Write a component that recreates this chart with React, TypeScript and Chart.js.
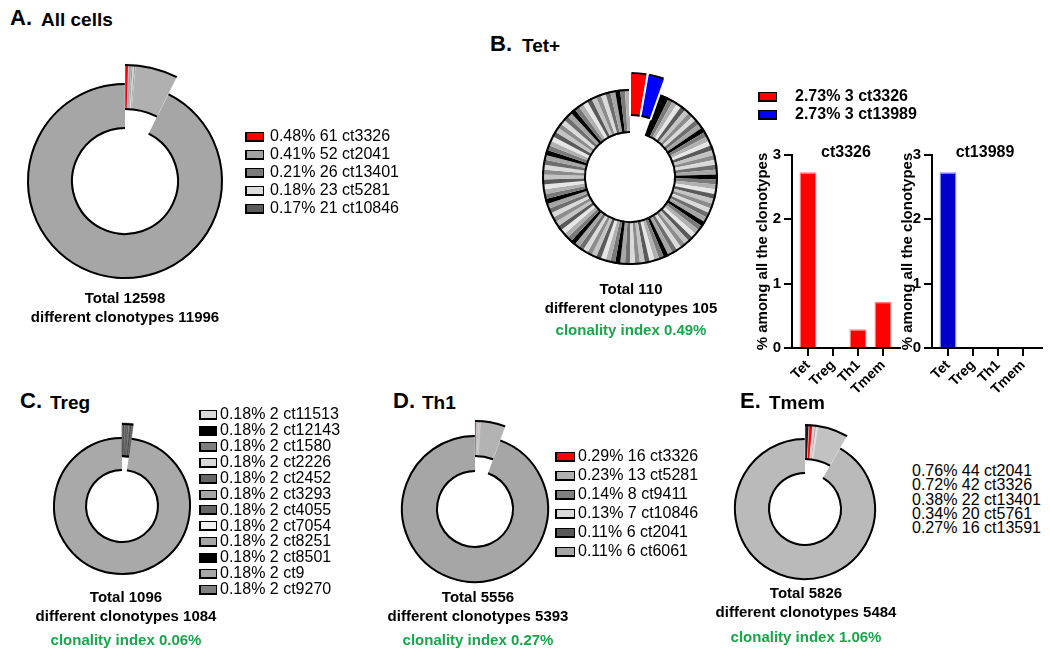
import React, { useEffect, useRef } from 'react';
import { Chart, registerables } from 'chart.js';

Chart.register(...registerables);

const FONT = '"Liberation Sans", Arial, Helvetica, sans-serif';
Chart.defaults.font.family = FONT;

// ---------------- DATA ----------------
// A. All cells
const allCellsTotal = 12598;
const allCellsDifferent = 11996;
const allCellsClones = ['ct3326', 'ct2041', 'ct13401', 'ct5281', 'ct10846'];
const allCellsPct = ['0.48', '0.41', '0.21', '0.18', '0.17'];
const allCellsCounts = [61, 52, 26, 23, 21];
const allCellsOtherExpanded = [744];
const allCellsSingletons = [11671];

// B. Tet+
const tetTotal = 110;
const tetDifferent = 105;
const tetClonality = '0.49%';
const tetClones = ['ct3326', 'ct13989'];
const tetPct = ['2.73', '2.73'];
const tetCounts = [3, 3];
const tetRing = [
  2, 1, 1, 1, 1, 1, 1, 1, 1, 1, 1, 1, 1, 1, 1, 1, 1, 1, 1, 1,
  1, 1, 1, 1, 1, 1, 1, 1, 1, 1, 1, 1, 1, 1, 1, 1, 1, 1, 1, 1,
  1, 1, 1, 1, 1, 1, 1, 1, 1, 1, 1, 1, 1, 1, 1, 1, 1, 1, 1, 1,
  1, 1, 1, 1, 1, 1, 1, 1, 1, 1, 1, 1, 1, 1, 1, 1, 1, 1, 1, 1,
  1, 1, 1, 1, 1, 1, 1, 1, 1, 1, 1, 1, 1, 1, 1, 1, 1, 1, 1, 1,
  1, 1, 1,
];

// Bar charts (% among all the clonotypes)
const barCategories = ['Tet', 'Treg', 'Th1', 'Tmem'];
const ct3326Pct = [2.73, 0, 0.29, 0.72];
const ct13989Pct = [2.73, 0, 0, 0];
const barYMin = 0;
const barYMax = 3;
const barYStep = 1;

// C. Treg
const tregTotal = 1096;
const tregDifferent = 1084;
const tregClonality = '0.06%';
const tregClones = ['ct11513', 'ct12143', 'ct1580', 'ct2226', 'ct2452', 'ct3293', 'ct4055', 'ct7054', 'ct8251', 'ct8501', 'ct9', 'ct9270'];
const tregPct = ['0.18', '0.18', '0.18', '0.18', '0.18', '0.18', '0.18', '0.18', '0.18', '0.18', '0.18', '0.18'];
const tregCounts = [2, 2, 2, 2, 2, 2, 2, 2, 2, 2, 2, 2];
const tregSingletons = [1072];

// D. Th1
const th1Total = 5556;
const th1Different = 5393;
const th1Clonality = '0.27%';
const th1Clones = ['ct3326', 'ct5281', 'ct9411', 'ct10846', 'ct2041', 'ct6061'];
const th1Pct = ['0.29', '0.23', '0.14', '0.13', '0.11', '0.11'];
const th1Counts = [16, 13, 8, 7, 6, 6];
const th1OtherExpanded = [253];
const th1Singletons = [5247];

// E. Tmem
const tmemTotal = 5826;
const tmemDifferent = 5484;
const tmemClonality = '1.06%';
const tmemClones = ['ct2041', 'ct3326', 'ct13401', 'ct5761', 'ct13591'];
const tmemPct = ['0.76', '0.72', '0.38', '0.34', '0.27'];
const tmemCounts = [44, 42, 22, 20, 16];
const tmemOtherExpanded = [341];
const tmemSingletons = [5341];

// ---------------- STYLES ----------------
const GREEN = '#17a74a';
const RED = '#ff0000';
const BLUE = '#0000ff';
const TRANSPARENT = 'rgba(0,0,0,0)';
const GREY_CYCLE = ['#000000', '#7a7a7a', '#b0b0b0', '#e6e6e6', '#5a5a5a', '#c4c4c4', '#8c8c8c', '#dadada', '#6e6e6e', '#a6a6a6'];

const sum = (a: number[]) => a.reduce((s, v) => s + v, 0);

const outlinePlugin = {
  id: 'outline',
  afterDatasetsDraw(chart: any, _args: any, opts: any) {
    if (!opts || opts.from == null) return;
    const meta = chart.getDatasetMeta(0);
    const ctx = chart.ctx;
    const first = meta.data[opts.from];
    if (!first) return;
    const { x, y, outerRadius, innerRadius } = first;
    const w = opts.width || 2;
    ctx.save();
    ctx.strokeStyle = opts.color || '#000';
    ctx.lineWidth = w;
    const segs: [number, number][] = [];
    if (opts.each) {
      for (let i = opts.from; i <= opts.to; i++) {
        const el = meta.data[i];
        const pad = (opts.gap || 0) / el.outerRadius;
        segs.push([el.startAngle + pad, el.endAngle - pad]);
      }
    } else {
      segs.push([meta.data[opts.from].startAngle, meta.data[opts.to].endAngle]);
    }
    for (const [s, e] of segs) {
      ctx.beginPath();
      ctx.arc(x, y, outerRadius - w / 2, s, e);
      ctx.stroke();
      ctx.beginPath();
      ctx.arc(x, y, innerRadius + w / 2, s, e);
      ctx.stroke();
    }
    ctx.restore();
  },
};

type DonutProps = {
  cx: number; cy: number; R: number; r: number; off: number;
  wedge: number[]; wedgeColors: string[]; wedgeBorder: string; wedgeBorderWidth: number; each?: boolean;
  ring: number[]; ringColors: string[];
};

function Donut(p: DonutProps) {
  const ringRef = useRef<HTMLCanvasElement>(null);
  const wedgeRef = useRef<HTMLCanvasElement>(null);
  const size = Math.ceil(2 * (p.R + p.off) + 10);
  useEffect(() => {
    const wedgeSum = sum(p.wedge);
    const ringSum = sum(p.ring);
    const base: any = {
      responsive: false,
      animation: false,
      events: [],
      layout: { padding: 0 },
    };
    const c1 = new Chart(ringRef.current!, {
      type: 'doughnut',
      data: {
        labels: ['exploded', ...p.ring.map((_, i) => 'r' + i)],
        datasets: [{
          data: [wedgeSum, ...p.ring],
          backgroundColor: [TRANSPARENT, ...p.ringColors],
          borderWidth: 0,
        }],
      },
      options: {
        ...base,
        radius: p.R,
        cutout: (p.r / p.R) * 100 + '%',
        plugins: { legend: { display: false }, tooltip: { enabled: false }, outline: { from: 1, to: p.ring.length, width: 2 } } as any,
      } as any,
      plugins: [outlinePlugin as any],
    });
    const Rw = p.R + p.off;
    const rw = p.r + p.off;
    const c2 = new Chart(wedgeRef.current!, {
      type: 'doughnut',
      data: {
        labels: [...p.wedge.map((_, i) => 'w' + i), 'rest'],
        datasets: [{
          data: [...p.wedge, ringSum],
          backgroundColor: [...p.wedgeColors, TRANSPARENT],
          borderColor: [...p.wedge.map(() => p.wedgeBorder), TRANSPARENT],
          borderWidth: [...p.wedge.map(() => p.wedgeBorderWidth), 0],
        }],
      },
      options: {
        ...base,
        radius: Rw,
        cutout: (rw / Rw) * 100 + '%',
        plugins: { legend: { display: false }, tooltip: { enabled: false }, outline: { from: 0, to: p.wedge.length - 1, width: 2, each: !!p.each, gap: p.each ? 1.5 : 0 } } as any,
      } as any,
      plugins: [outlinePlugin as any],
    });
    return () => { c1.destroy(); c2.destroy(); };
  }, []);
  const st: React.CSSProperties = { position: 'absolute', left: p.cx - size / 2, top: p.cy - size / 2, width: size, height: size };
  return (
    <>
      <canvas ref={ringRef} width={size} height={size} style={st} />
      <canvas ref={wedgeRef} width={size} height={size} style={st} />
    </>
  );
}

type BarProps = {
  left: number; top: number; width: number; height: number;
  padLeft: number; padTop: number; padRight: number; yWidth: number; xHeight: number;
  xMin: number; xMax: number;
  values: number[]; color: string; border: string;
};

function Bars(p: BarProps) {
  const ref = useRef<HTMLCanvasElement>(null);
  useEffect(() => {
    const xFont = { family: FONT, size: 14, weight: 'bold' as const };
    const yFont = { family: FONT, size: 15, weight: 'bold' as const };
    const c = new Chart(ref.current!, {
      type: 'bar',
      data: {
        datasets: [{
          data: p.values.map((v, i) => ({ x: i + 1, y: v })),
          backgroundColor: p.color,
          borderColor: p.border,
          borderWidth: 1.5,
          barPercentage: 0.68,
          categoryPercentage: 1,
        }],
      },
      options: {
        responsive: false,
        animation: false,
        events: [],
        layout: { padding: { left: p.padLeft, top: p.padTop, right: p.padRight, bottom: 0 } },
        plugins: { legend: { display: false }, tooltip: { enabled: false } },
        scales: {
          x: {
            type: 'linear',
            offset: false,
            bounds: 'data',
            min: p.xMin,
            max: p.xMax,
            afterBuildTicks: (s: any) => { s.ticks = barCategories.map((_, i) => ({ value: i + 1 })); },
            grid: { display: true, offset: false, drawOnChartArea: false, drawTicks: true, tickLength: 8, color: '#000', lineWidth: 2 },
            border: { display: true, color: '#000', width: 2 },
            ticks: {
              color: '#000', font: xFont, minRotation: 45, maxRotation: 45, padding: 1, autoSkip: false,
              callback: (v: any) => barCategories[Math.round(v) - 1] ?? '',
            },
            afterFit: (s: any) => { s.height = p.xHeight; },
          },
          y: {
            min: barYMin,
            max: barYMax,
            ticks: { stepSize: barYStep, color: '#000', font: yFont, padding: 3 },
            grid: { display: true, drawOnChartArea: false, drawTicks: true, tickLength: 8, color: '#000', lineWidth: 2 },
            border: { display: true, color: '#000', width: 2 },
            title: { display: true, text: '% among all the clonotypes', color: '#000', font: { family: FONT, size: 15, weight: 'bold' }, padding: { top: 0, bottom: 0 } },
            afterFit: (s: any) => { s.width = p.yWidth; },
          },
        },
      } as any,
    });
    return () => c.destroy();
  }, []);
  return <canvas ref={ref} width={p.width} height={p.height} style={{ position: 'absolute', left: p.left, top: p.top, width: p.width, height: p.height }} />;
}

function Txt(props: { x: number; y: number; size: number; bold?: boolean; color?: string; center?: boolean; children: React.ReactNode }) {
  const st: React.CSSProperties = {
    position: 'absolute',
    left: props.x,
    top: props.y - props.size * 0.55,
    fontSize: props.size,
    lineHeight: props.size + 'px',
    fontWeight: props.bold ? 700 : 400,
    color: props.color || '#000',
    fontFamily: FONT,
    whiteSpace: 'nowrap',
  };
  if (props.center) st.transform = 'translateX(-50%)';
  return <div style={st}>{props.children}</div>;
}

function Box(props: { x: number; y: number; w: number; h: number; color: string }) {
  return (
    <div style={{
      position: 'absolute', left: props.x, top: props.y - props.h / 2, width: props.w, height: props.h,
      background: props.color, border: '2px solid #000', borderTopWidth: 1.5, borderRightWidth: 1.5, boxSizing: 'border-box',
    }} />
  );
}

function Legend(props: { x: number; y: number; dy: number; pct: string[]; counts: number[]; clones: string[]; colors?: string[]; bold?: boolean; boxW?: number; textX: number }) {
  return (
    <>
      {props.clones.map((c, i) => (
        <React.Fragment key={c + i}>
          {props.colors ? <Box x={props.x} y={props.y + i * props.dy} w={props.boxW || 19} h={10} color={props.colors[i]} /> : null}
          <Txt x={props.textX} y={props.y + i * props.dy} size={16} bold={props.bold}>{`${props.pct[i]}% ${props.counts[i]} ${c}`}</Txt>
        </React.Fragment>
      ))}
    </>
  );
}

function Title(props: { x: number; y: number; letter: string; name: string; gap: number }) {
  return (
    <>
      <Txt x={props.x} y={props.y} size={22} bold>{props.letter}</Txt>
      <Txt x={props.x + props.gap} y={props.y + 1} size={19} bold>{props.name}</Txt>
    </>
  );
}

function Summary(props: { x: number; y: number; total: number; different: number; clonality?: string; dy2: number }) {
  return (
    <>
      <Txt x={props.x} y={props.y} size={15} bold center>{`Total ${props.total}`}</Txt>
      <Txt x={props.x} y={props.y + 19} size={15} bold center>{`different clonotypes ${props.different}`}</Txt>
      {props.clonality ? <Txt x={props.x} y={props.y + 19 + props.dy2} size={15} bold center color={GREEN}>{`clonality index ${props.clonality}`}</Txt> : null}
    </>
  );
}

const allCellsColors = [RED, '#a3a3a3', '#7b7b7b', '#dcdcdc', '#5a5a5a'];
const tregColors = ['#d9d9d9', '#000000', '#7f7f7f', '#d9d9d9', '#666666', '#a6a6a6', '#666666', '#f2f2f2', '#a6a6a6', '#000000', '#a6a6a6', '#808080'];
const th1Colors = [RED, '#b0b0b0', '#808080', '#d9d9d9', '#595959', '#a6a6a6'];
const tmemColors = ['#1a1a1a', RED, '#d0d0d0', '#a0a0a0', '#e0e0e0'];

export default function App() {
  return (
    <div style={{ position: 'absolute', left: 0, top: 0, width: 1050, height: 657, background: '#fff', overflow: 'hidden', fontFamily: FONT }}>
      {/* A */}
      <Title x={10} y={19} letter="A." name="All cells" gap={31} />
      <Donut cx={125} cy={181} R={98} r={52} off={19}
        wedge={[...allCellsCounts, ...allCellsOtherExpanded]}
        wedgeColors={[...allCellsColors, '#b0b0b0']} wedgeBorder="#d8d8d8" wedgeBorderWidth={0.5}
        ring={allCellsSingletons} ringColors={['#a6a6a6']} />
      <Legend x={245} y={137} dy={18} textX={270} pct={allCellsPct} counts={allCellsCounts} clones={allCellsClones} colors={allCellsColors} />
      <Summary x={125} y={298} total={allCellsTotal} different={allCellsDifferent} dy2={22} />

      {/* B */}
      <Title x={490} y={45} letter="B." name="Tet+" gap={32} />
      <Donut cx={630} cy={177} R={88} r={44} off={17}
        wedge={tetCounts} wedgeColors={[RED, BLUE]} wedgeBorder="#ffffff" wedgeBorderWidth={2} each
        ring={tetRing} ringColors={tetRing.map((_, i) => GREY_CYCLE[i % GREY_CYCLE.length])} />
      <Legend x={758} y={97} dy={18} textX={795} pct={tetPct} counts={tetCounts} clones={tetClones} colors={[RED, BLUE]} bold />
      <Summary x={631} y={289} total={tetTotal} different={tetDifferent} clonality={tetClonality} dy2={22} />

      <Bars left={744} top={140} width={166} height={260} padLeft={10} padTop={15} padRight={10} yWidth={38} xHeight={52}
        xMin={0.36} xMax={4.68} values={ct3326Pct} color={RED} border="#ff7a7a" />
      <Txt x={846} y={153} size={16} bold center>ct3326</Txt>
      <Bars left={889} top={140} width={161} height={260} padLeft={10} padTop={15} padRight={8} yWidth={33} xHeight={52}
        xMin={0.36} xMax={4.76} values={ct13989Pct} color="#0000cc" border="#8a8aff" />
      <Txt x={985} y={153} size={16} bold center>ct13989</Txt>

      {/* C */}
      <Title x={20} y={402} letter="C." name="Treg" gap={30} />
      <Donut cx={122} cy={506} R={69} r={35} off={14}
        wedge={tregCounts} wedgeColors={tregColors} wedgeBorder="#555555" wedgeBorderWidth={0.6}
        ring={tregSingletons} ringColors={['#a9a9a9']} />
      <Legend x={199} y={415} dy={15.9} textX={220} pct={tregPct} counts={tregCounts} clones={tregClones} colors={tregColors} boxW={18} />
      <Summary x={126} y={597} total={tregTotal} different={tregDifferent} clonality={tregClonality} dy2={24} />

      {/* D */}
      <Title x={393} y={402} letter="D." name="Th1" gap={29} />
      <Donut cx={475} cy={509} R={74} r={37} off={15}
        wedge={[...th1Counts, ...th1OtherExpanded]} wedgeColors={[...th1Colors, '#b3b3b3']} wedgeBorder="#d0d0d0" wedgeBorderWidth={0.5}
        ring={th1Singletons} ringColors={['#a6a6a6']} />
      <Legend x={555} y={457} dy={19} textX={578} pct={th1Pct} counts={th1Counts} clones={th1Clones} colors={th1Colors} boxW={20} />
      <Summary x={478} y={597} total={th1Total} different={th1Different} clonality={th1Clonality} dy2={24} />

      {/* E */}
      <Title x={740} y={402} letter="E." name="Tmem" gap={29} />
      <Donut cx={805} cy={509} R={71} r={35} off={14}
        wedge={[...tmemCounts, ...tmemOtherExpanded]} wedgeColors={[...tmemColors, '#c2c2c2']} wedgeBorder="#e0e0e0" wedgeBorderWidth={0.5}
        ring={tmemSingletons} ringColors={['#bababa']} />
      <Legend x={0} y={472} dy={14.2} textX={912} pct={tmemPct} counts={tmemCounts} clones={tmemClones} />
      <Summary x={806} y={593} total={tmemTotal} different={tmemDifferent} clonality={tmemClonality} dy2={25} />
    </div>
  );
}
